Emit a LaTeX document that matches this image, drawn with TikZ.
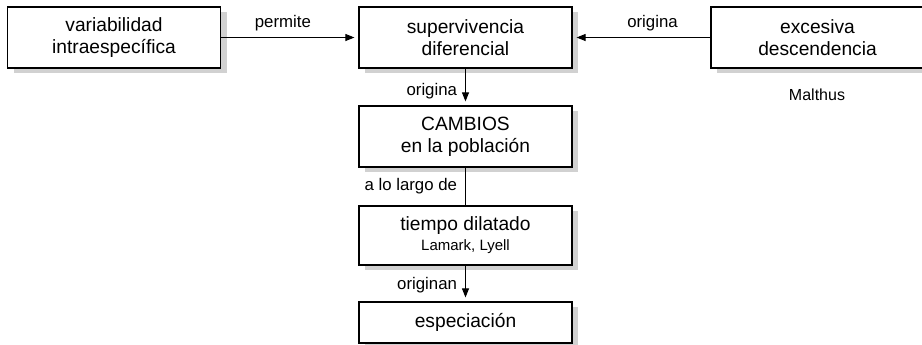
\documentclass[tikz,border=0pt]{standalone}
\usepackage{fontspec}
\setmainfont{Liberation Sans}
\usetikzlibrary{positioning, shadows, arrows.meta}

\tikzset{
    concepto/.style={draw, line width=0.6pt, fill=white, minimum width=106.5pt,
        minimum height=30.5pt, align=center, font=\fontsize{9.6}{11}\selectfont,
        general shadow={fill=black!18, shadow xshift=3pt, shadow yshift=-2.5pt}},
    enlace/.style={font=\fontsize{8.4}{9}\selectfont, inner sep=1pt},
    flecha/.style={-{Triangle[length=4.5pt, width=3.5pt]}, line width=0.5pt, shorten >=2pt}
}

\begin{document}
\begin{tikzpicture}[x=0.5pt, y=-0.5pt]
    \useasboundingbox (0,0) rectangle (922,344);

    % conceptos
    \node[concepto] (var) at (114,37.5) {variabilidad\\intraespecífica};
    \node[concepto] (sup) at (465.5,37.5) {supervivencia\\diferencial};
    \node[concepto] (exc) at (817.5,37.5) {excesiva\\descendencia};
    \node[enlace, font=\fontsize{8}{9}\selectfont] (mal) at (817,95) {Malthus};
    \node[concepto] (cam) at (465.5,136.5) {CAMBIOS\\en la población};
    \node[concepto, minimum height=29.5pt] (tie) at (465.5,235.5)
        {tiempo dilatado\\[-1pt]{\fontsize{7.5}{9}\selectfont Lamark, Lyell}};
    \node[concepto, minimum height=20.5pt] (esp) at (465.5,322.5) {especiación};

    % enlaces
    \draw[flecha] (var) -- node[enlace, above=2pt, pos=0.45] {permite} (sup);
    \draw[flecha] (exc) -- node[enlace, above=2pt, pos=0.42] {origina} (sup);
    \draw[flecha] (sup) -- node[enlace, left=3pt, pos=0.6] {origina} (cam);
    \draw[line width=0.5pt] (cam) -- node[enlace, left=3pt] {a lo largo de} (tie);
    \draw[flecha] (tie) -- node[enlace, left=3pt, pos=0.55] {originan} (esp);
\end{tikzpicture}
\end{document}
